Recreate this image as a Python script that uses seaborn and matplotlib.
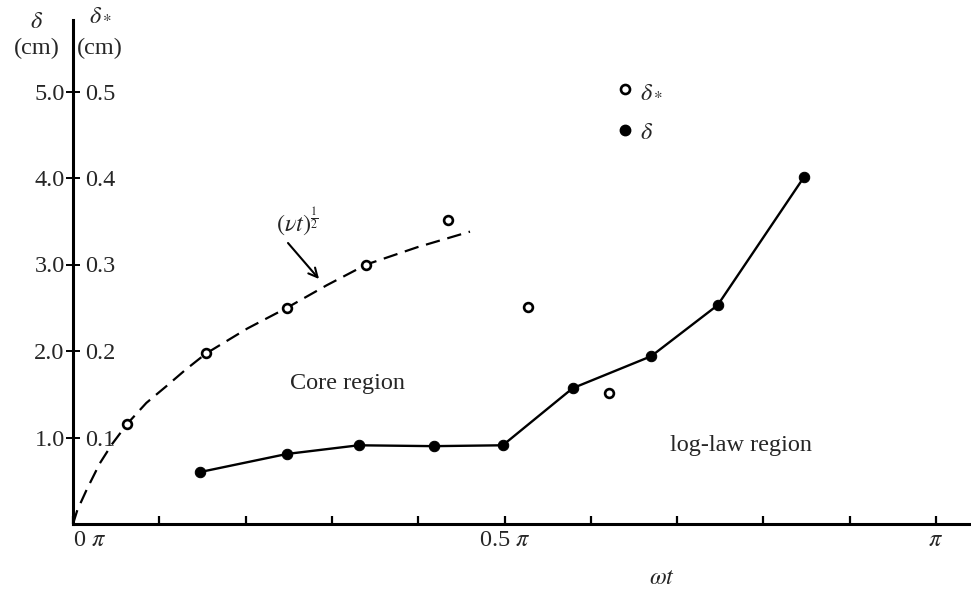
import numpy as np
import pandas as pd
import matplotlib
matplotlib.use("Agg")
import matplotlib.pyplot as plt
import seaborn as sns

# ---------------- data (x in units of pi) ----------------
delta_x = [0.147, 0.248, 0.331, 0.418, 0.498, 0.579, 0.670, 0.747, 0.847]
delta_y = [0.60, 0.81, 0.91, 0.90, 0.91, 1.57, 1.94, 2.53, 4.01]          # delta (cm)

dstar_x = [0.063, 0.154, 0.248, 0.340, 0.435, 0.527, 0.621]
dstar_y = [0.116, 0.198, 0.250, 0.300, 0.351, 0.251, 0.151]               # delta_* (cm)

curve_x = [0.0, 0.005, 0.016, 0.031, 0.045, 0.063, 0.085, 0.109, 0.130,
           0.154, 0.202, 0.248, 0.294, 0.340, 0.399, 0.460]
curve_y = [0.0, 0.16, 0.40, 0.70, 0.92, 1.16, 1.40, 1.60, 1.78,
           1.97, 2.26, 2.50, 2.76, 3.00, 3.20, 3.38]                       # (nu t)^1/2 in delta units

xtick_vals = [0.0, 0.1, 0.2, 0.3, 0.4, 0.5, 0.6, 0.7, 0.8, 0.9, 1.0]
xtick_labels = [r"0 $\pi$", "", "", "", "", r"0.5 $\pi$", "", "", "", "", r"$\pi$"]
ytick_vals = [1.0, 2.0, 3.0, 4.0, 5.0]
ytick_labels = ["1.0", "2.0", "3.0", "4.0", "5.0"]
ystar_labels = ["0.1", "0.2", "0.3", "0.4", "0.5"]

# ---------------- style ----------------
sns.set_style("ticks")
plt.rcParams["font.family"] = ["Liberation Serif", "DejaVu Serif"]
plt.rcParams["mathtext.fontset"] = "stix"
FS = 17.5

W, H = 971, 594
fig = plt.figure(figsize=(W / 100, H / 100), dpi=100)
ox, oy, top = 73, 524, 20
ax = fig.add_axes([ox / W, (H - oy) / H, (W - ox) / W, (oy - top) / H])

xscale = 863.0  # pixels per pi
yscale = 86.5   # pixels per cm
ax.set_xlim(0, (W - ox) / xscale)
ax.set_ylim(0, (oy - top) / yscale)

df_d = pd.DataFrame({"x": delta_x, "y": delta_y})
df_s = pd.DataFrame({"x": dstar_x, "y": [v * 10 for v in dstar_y]})
df_c = pd.DataFrame({"x": curve_x, "y": curve_y})

sns.lineplot(data=df_c, x="x", y="y", ax=ax, color="black", lw=1.6,
             dashes=False, sort=False, linestyle=(0, (6.5, 3.5)))
sns.lineplot(data=df_d, x="x", y="y", ax=ax, color="black", lw=1.7,
             marker="o", markersize=7.5, markeredgecolor="black",
             markerfacecolor="black", sort=False)
sns.scatterplot(data=df_s, x="x", y="y", ax=ax, marker="o", s=40,
                facecolor="white", edgecolor="black", linewidth=1.9, zorder=5)

# spines
sns.despine(ax=ax, top=True, right=True)
for s in ("left", "bottom"):
    ax.spines[s].set_linewidth(2.2)
    ax.spines[s].set_color("black")

ax.set_xticks(xtick_vals)
ax.set_xticklabels(xtick_labels, fontsize=FS)
ax.get_xticklabels()[0].set_horizontalalignment("left")
ax.tick_params(axis="x", direction="in", length=6, width=1.6, pad=4, color="black")

ax.set_yticks(ytick_vals)
ax.set_yticklabels(ytick_labels, fontsize=FS)
ax.tick_params(axis="y", direction="inout", length=10, width=1.4, pad=1, color="black")
ax.set_xlabel("")
ax.set_ylabel("")

sec = ax.secondary_yaxis(0, functions=(lambda v: v / 10.0, lambda v: v * 10.0))
sec.set_alignment("right")
sec.set_yticks([v / 10.0 for v in ytick_vals])
sec.set_yticklabels(ystar_labels, fontsize=FS)
sec.tick_params(axis="y", length=0, pad=9)
sec.spines["right"].set_visible(False)
sec.spines["left"].set_visible(False)

# header labels
def ftext(px, py, s, **kw):
    fig.text(px / W, 1 - py / H, s, ha="center", va="center", fontsize=FS, **kw)

ftext(37, 22, r"$\delta$")
ftext(37, 48, "(cm)")
ftext(101, 15, r"$\delta_*$")
ftext(100, 48, "(cm)")
ftext(662, 578, r"$\omega t$")

# in-plot texts
def dx(px):
    return (px - ox) / xscale

def dy(py):
    return (oy - py) / yscale

ax.text(dx(348), dy(384), "Core region", fontsize=FS, ha="center", va="center")
ax.text(dx(741), dy(445), "log-law region", fontsize=FS, ha="center", va="center")
ax.text(dx(297), dy(222), r"$(\nu t)^{\frac{1}{2}}$", fontsize=FS, ha="center", va="center")
ax.annotate("", xy=(dx(319), dy(279)), xytext=(dx(288), dy(243)),
            arrowprops=dict(arrowstyle="->", color="black", lw=1.5,
                            mutation_scale=16, shrinkA=0, shrinkB=0))

# legend
h1 = plt.Line2D([], [], ls="none", marker="o", ms=6.5, mfc="white", mec="black", mew=1.9)
h2 = plt.Line2D([], [], ls="none", marker="o", ms=7.5, mfc="black", mec="black")
ax.legend([h1, h2], [r"$\delta_*$", r"$\delta$"], frameon=False, fontsize=FS,
          loc="upper left", bbox_to_anchor=(dx(606) / ax.get_xlim()[1], dy(68) / ax.get_ylim()[1]),
          handlelength=0.6, handletextpad=0.3, labelspacing=0.8, borderpad=0)

fig.savefig("out.png", dpi=100)
